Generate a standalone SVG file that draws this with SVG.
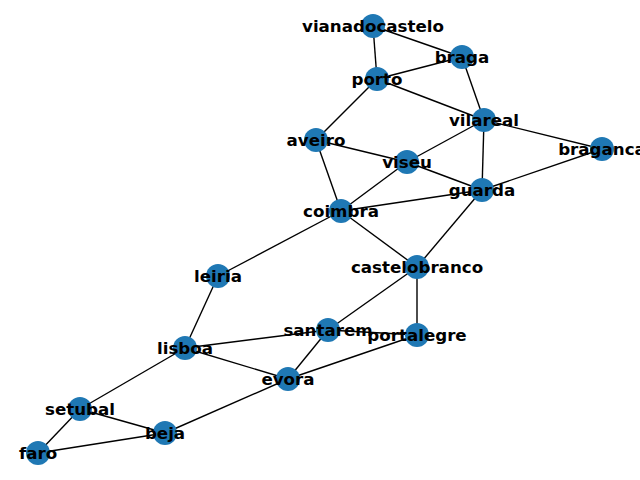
<svg xmlns="http://www.w3.org/2000/svg" width="640" height="480" viewBox="0 0 640 480">
<style>
.e{stroke:#000;stroke-width:1.4;fill:none}
.n circle{fill:#1f78b4}
.n text{font-family:"DejaVu Sans",sans-serif;font-size:16.7px;font-weight:bold;fill:#000;text-anchor:middle}
</style>
<rect width="640" height="480" fill="#fff"/>
<g id="edges">
<line class="e" x1="373" y1="26" x2="462" y2="57"/>
<line class="e" x1="373" y1="26" x2="377" y2="79"/>
<line class="e" x1="462" y1="57" x2="377" y2="79"/>
<line class="e" x1="462" y1="57" x2="484" y2="120"/>
<line class="e" x1="377" y1="79" x2="484" y2="120"/>
<line class="e" x1="377" y1="79" x2="316" y2="140"/>
<line class="e" x1="484" y1="120" x2="602" y2="149"/>
<line class="e" x1="484" y1="120" x2="407" y2="162"/>
<line class="e" x1="484" y1="120" x2="482" y2="190"/>
<line class="e" x1="602" y1="149" x2="482" y2="190"/>
<line class="e" x1="316" y1="140" x2="407" y2="162"/>
<line class="e" x1="316" y1="140" x2="341" y2="211"/>
<line class="e" x1="407" y1="162" x2="482" y2="190"/>
<line class="e" x1="407" y1="162" x2="341" y2="211"/>
<line class="e" x1="341" y1="211" x2="482" y2="190"/>
<line class="e" x1="341" y1="211" x2="218" y2="276"/>
<line class="e" x1="341" y1="211" x2="417" y2="267"/>
<line class="e" x1="482" y1="190" x2="417" y2="267"/>
<line class="e" x1="417" y1="267" x2="328" y2="330"/>
<line class="e" x1="417" y1="267" x2="417" y2="335"/>
<line class="e" x1="218" y1="276" x2="185" y2="348"/>
<line class="e" x1="185" y1="348" x2="328" y2="330"/>
<line class="e" x1="185" y1="348" x2="288" y2="379"/>
<line class="e" x1="185" y1="348" x2="80" y2="409"/>
<line class="e" x1="328" y1="330" x2="288" y2="379"/>
<line class="e" x1="328" y1="330" x2="417" y2="335"/>
<line class="e" x1="417" y1="335" x2="288" y2="379"/>
<line class="e" x1="288" y1="379" x2="165" y2="433"/>
<line class="e" x1="80" y1="409" x2="165" y2="433"/>
<line class="e" x1="80" y1="409" x2="38" y2="453"/>
<line class="e" x1="38" y1="453" x2="165" y2="433"/>
</g>
<g id="vianadocastelo" class="n"><circle cx="373" cy="26" r="12"/><text x="373" y="32">vianadocastelo</text></g>
<g id="braga" class="n"><circle cx="462" cy="57" r="12"/><text x="462" y="63">braga</text></g>
<g id="porto" class="n"><circle cx="377" cy="79" r="12"/><text x="377" y="85">porto</text></g>
<g id="vilareal" class="n"><circle cx="484" cy="120" r="12"/><text x="484" y="126">vilareal</text></g>
<g id="braganca" class="n"><circle cx="602" cy="149" r="12"/><text x="602" y="155">braganca</text></g>
<g id="aveiro" class="n"><circle cx="316" cy="140" r="12"/><text x="316" y="146">aveiro</text></g>
<g id="viseu" class="n"><circle cx="407" cy="162" r="12"/><text x="407" y="168">viseu</text></g>
<g id="guarda" class="n"><circle cx="482" cy="190" r="12"/><text x="482" y="196">guarda</text></g>
<g id="coimbra" class="n"><circle cx="341" cy="211" r="12"/><text x="341" y="217">coimbra</text></g>
<g id="castelobranco" class="n"><circle cx="417" cy="267" r="12"/><text x="417" y="273">castelobranco</text></g>
<g id="leiria" class="n"><circle cx="218" cy="276" r="12"/><text x="218" y="282">leiria</text></g>
<g id="santarem" class="n"><circle cx="328" cy="330" r="12"/><text x="328" y="336">santarem</text></g>
<g id="portalegre" class="n"><circle cx="417" cy="335" r="12"/><text x="417" y="341">portalegre</text></g>
<g id="lisboa" class="n"><circle cx="185" cy="348" r="12"/><text x="185" y="354">lisboa</text></g>
<g id="evora" class="n"><circle cx="288" cy="379" r="12"/><text x="288" y="385">evora</text></g>
<g id="setubal" class="n"><circle cx="80" cy="409" r="12"/><text x="80" y="415">setubal</text></g>
<g id="beja" class="n"><circle cx="165" cy="433" r="12"/><text x="165" y="439">beja</text></g>
<g id="faro" class="n"><circle cx="38" cy="453" r="12"/><text x="38" y="459">faro</text></g>
</svg>
